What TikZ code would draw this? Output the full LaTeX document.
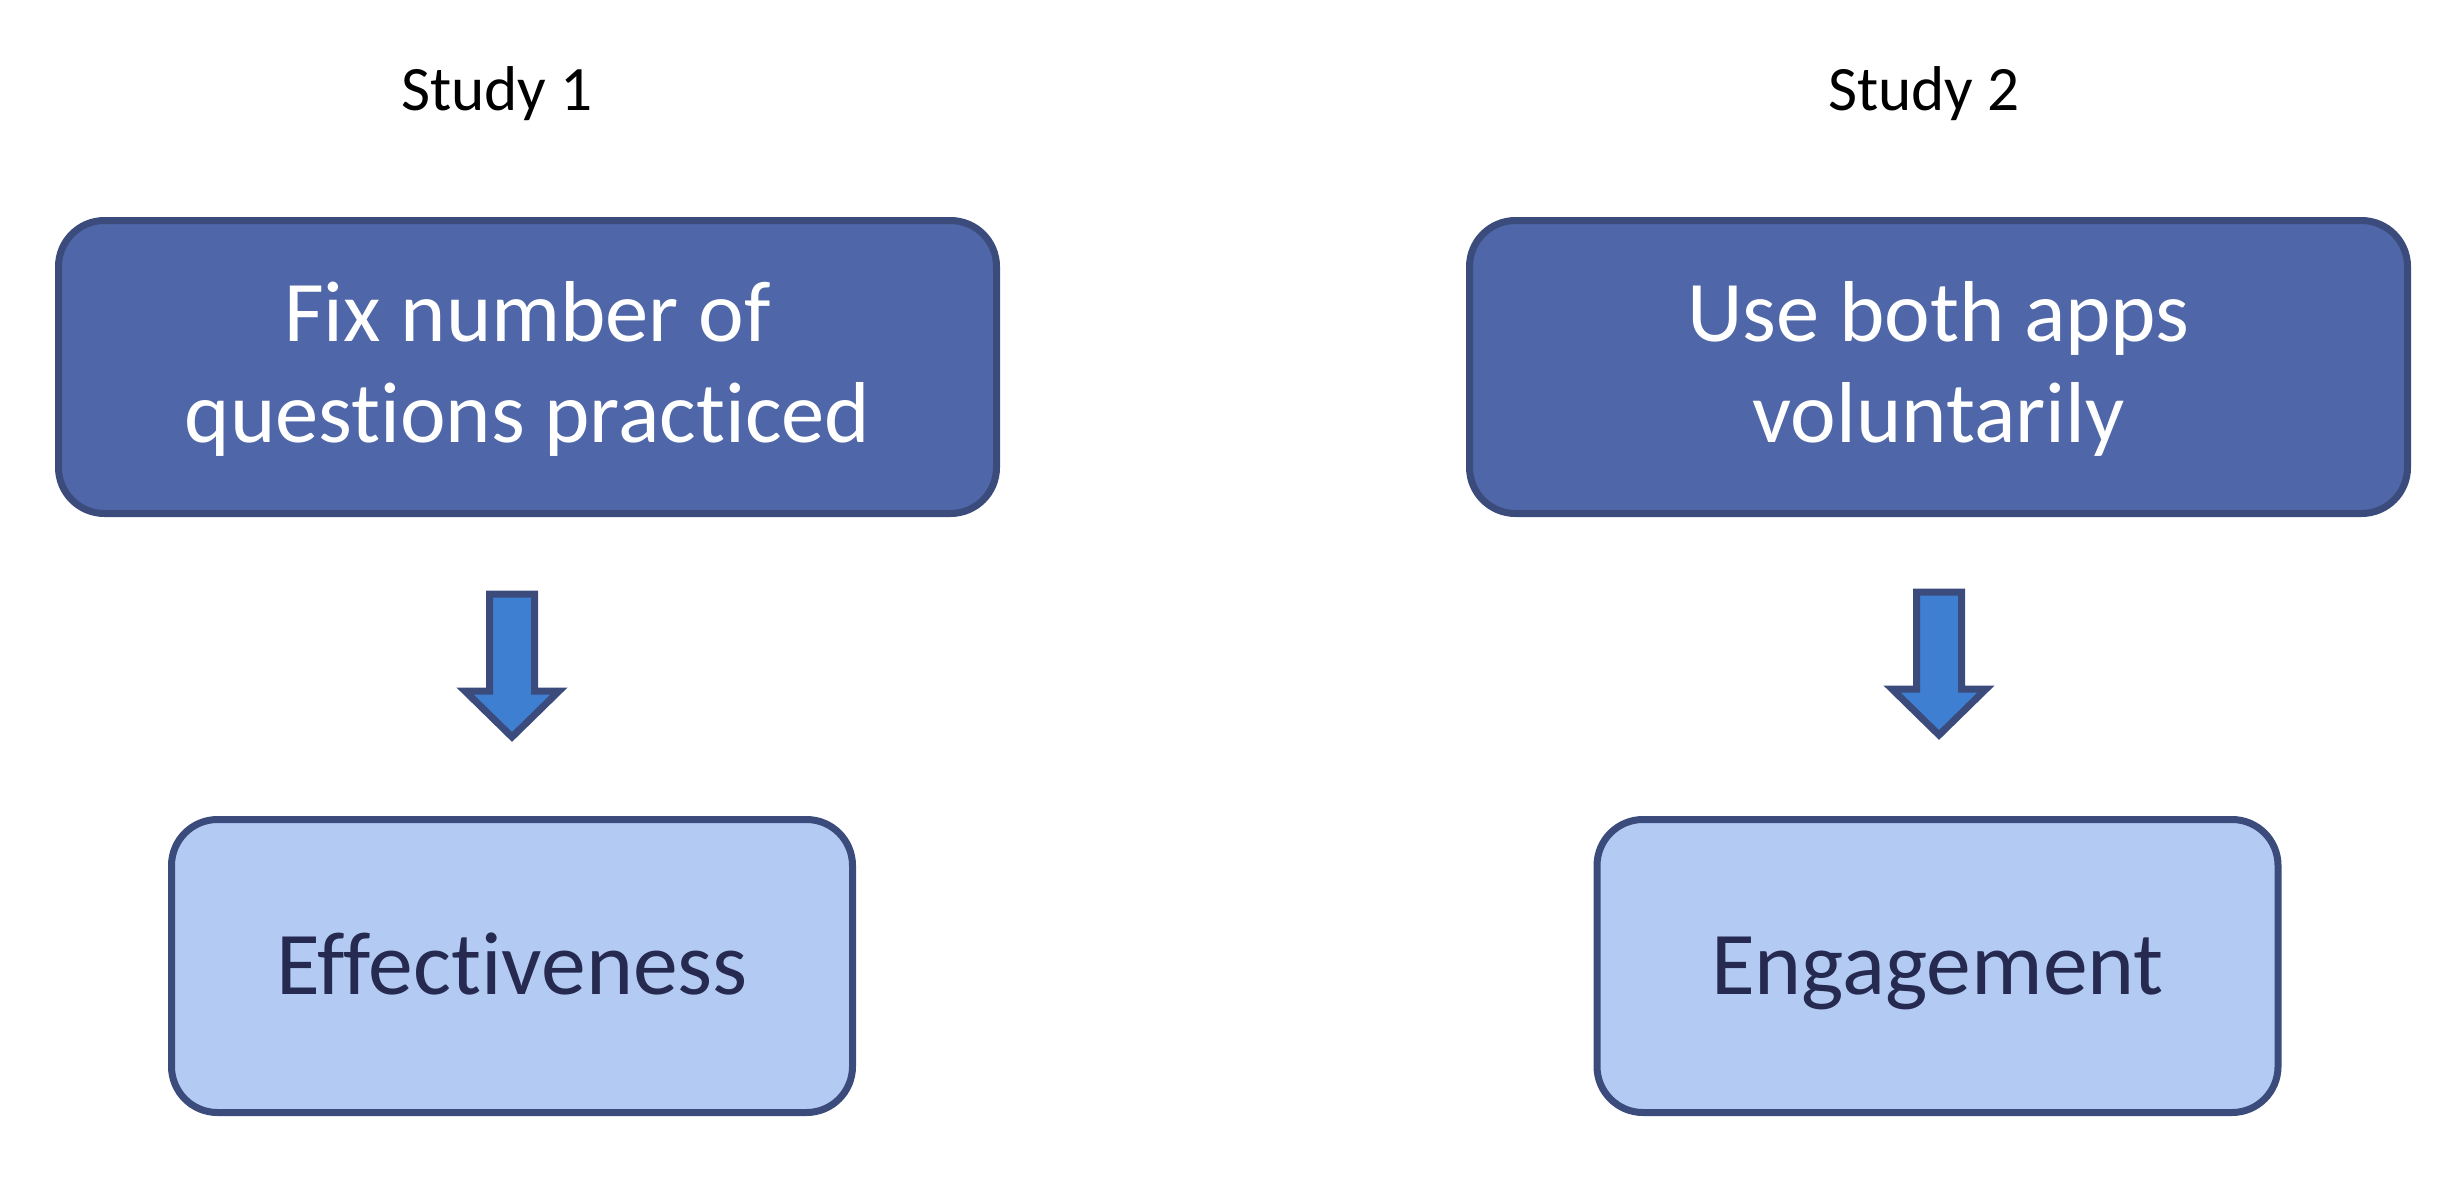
\documentclass[tikz,border=0pt]{standalone}
\usepackage{fontspec}
\setmainfont{Carlito}[RawFeature={-liga;-clig;-dlig}]
\usetikzlibrary{calc}
\definecolor{darkfill}{HTML}{4F67A8}
\definecolor{edgecol}{HTML}{3B4C7C}
\definecolor{lightfill}{HTML}{B3CBF3}
\definecolor{arrowfill}{HTML}{3E7FD1}
\definecolor{navytext}{HTML}{262A50}
\begin{document}
\begin{tikzpicture}[x=0.1mm,y=-0.1mm,
  topbox/.style={draw=edgecol, fill=darkfill, line width=0.7mm, rounded corners=4.6mm,
    minimum width=93.8mm, minimum height=29.3mm, inner sep=0pt},
  toplabel/.style={text=white, font=\fontsize{24.6}{28.8}\selectfont, align=center, inner sep=0pt},
  botbox/.style={draw=edgecol, fill=lightfill, line width=0.7mm, rounded corners=4.6mm,
    minimum width=68.1mm, minimum height=29.3mm, inner sep=0pt},
  botlabel/.style={text=navytext, font=\fontsize{25.5}{28.2}\selectfont, inner sep=0pt,
    text height=16.4pt, text depth=0pt},
  studytitle/.style={font=\fontsize{18}{20}\selectfont, text=black, anchor=base, inner sep=0pt},
  blockarrow/.style={draw=edgecol, fill=arrowfill, line width=0.7mm, miter limit=10}]
\useasboundingbox (0,0) rectangle (2458,1188);
\node[studytitle] (s1) at (497,110) {Study 1};
\node[studytitle] (s2) at (1924,110) {Study 2};
\node[topbox] (q1) at (527.5,367) {};
\node[topbox] (q2) at (1938.5,367) {};
\node[toplabel] (ql1) at ($(q1.center)+(0,2)$) {Fix number of\\questions practiced};
\node[toplabel] (ql2) at ($(q2.center)+(0,2)$) {Use both apps\\voluntarily};
\node[botbox] (e1) at (512,966) {};
\node[botbox] (e2) at (1937.5,966) {};
\node[botlabel] (l1) at (e1.center) {Effectiveness};
\node[botlabel] (l2) at (e2.center) {Engagement};
\coordinate (t1) at (512,594);
\coordinate (t2) at (1939,592);
\foreach \t in {t1,t2}{
  \draw[blockarrow] ($(\t)+(-22.5,0)$) -- ($(\t)+(22.5,0)$) -- ($(\t)+(22.5,97)$)
    -- ($(\t)+(47,97)$) -- ($(\t)+(0,143)$) -- ($(\t)+(-47,97)$)
    -- ($(\t)+(-22.5,97)$) -- cycle;
}
\end{tikzpicture}
\end{document}
